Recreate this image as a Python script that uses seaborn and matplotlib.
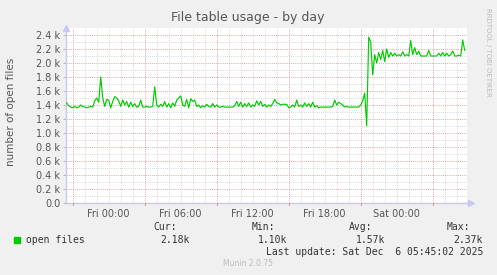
import matplotlib
matplotlib.use("Agg")
import matplotlib.pyplot as plt
import matplotlib.dates as mdates
import numpy as np
import pandas as pd
import seaborn as sns

# ---------------- data ----------------
start_time = "2025-12-04 20:30"   # Thu 20:30, 10-minute samples
step = "10min"
open_files_k = [
    1.43, 1.39, 1.37, 1.36, 1.38, 1.36, 1.37, 1.40, 1.38, 1.37,
    1.36, 1.37, 1.38, 1.37, 1.46, 1.50, 1.44, 1.80, 1.50, 1.38,
    1.48, 1.47, 1.36, 1.45, 1.52, 1.50, 1.46, 1.38, 1.47, 1.40,
    1.45, 1.37, 1.44, 1.38, 1.42, 1.37, 1.38, 1.47, 1.37, 1.37,
    1.38, 1.37, 1.37, 1.38, 1.66, 1.40, 1.37, 1.41, 1.38, 1.45,
    1.37, 1.42, 1.36, 1.43, 1.38, 1.47, 1.50, 1.53, 1.40, 1.38,
    1.48, 1.36, 1.49, 1.45, 1.47, 1.38, 1.40, 1.36, 1.39, 1.37,
    1.41, 1.38, 1.37, 1.42, 1.37, 1.40, 1.37, 1.37, 1.38, 1.37,
    1.37, 1.37, 1.37, 1.37, 1.39, 1.45, 1.38, 1.44, 1.37, 1.42,
    1.38, 1.43, 1.37, 1.40, 1.38, 1.46, 1.40, 1.45, 1.38, 1.41,
    1.37, 1.40, 1.38, 1.42, 1.48, 1.43, 1.42, 1.40, 1.41, 1.41,
    1.41, 1.36, 1.37, 1.40, 1.37, 1.47, 1.38, 1.40, 1.37, 1.43,
    1.38, 1.42, 1.37, 1.44, 1.37, 1.39, 1.36, 1.37, 1.37, 1.37,
    1.37, 1.37, 1.37, 1.38, 1.47, 1.40, 1.44, 1.42, 1.40, 1.37,
    1.38, 1.37, 1.37, 1.37, 1.37, 1.37, 1.37, 1.40, 1.46, 1.57,
    1.10, 2.37, 2.30, 1.83, 2.12, 2.00, 2.15, 2.05, 2.18, 2.02,
    2.20, 2.08, 2.15, 2.10, 2.14, 2.10, 2.12, 2.10, 2.16, 2.10,
    2.12, 2.10, 2.32, 2.12, 2.22, 2.12, 2.17, 2.10, 2.10, 2.10,
    2.10, 2.18, 2.10, 2.10, 2.10, 2.10, 2.14, 2.10, 2.15, 2.10,
    2.14, 2.10, 2.12, 2.17, 2.10, 2.10, 2.11, 2.10, 2.33, 2.18,
]
x_tick_labels = ["Fri 00:00", "Fri 06:00", "Fri 12:00", "Fri 18:00", "Sat 00:00"]
x_tick_times = ["2025-12-05 00:00", "2025-12-05 06:00", "2025-12-05 12:00",
                "2025-12-05 18:00", "2025-12-06 00:00"]
y_ticks_k = [0.0, 0.2, 0.4, 0.6, 0.8, 1.0, 1.2, 1.4, 1.6, 1.8, 2.0, 2.2, 2.4]
x_start = "2025-12-04 20:26:30"
x_end = "2025-12-06 05:51:30"
series_name = "open files"
stat_names = ["Cur:", "Min:", "Avg:", "Max:"]
stat_values = ["2.18k", "1.10k", "1.57k", "2.37k"]
last_update = "Last update: Sat Dec  6 05:45:02 2025"

df = pd.DataFrame({
    "time": pd.date_range(start_time, periods=len(open_files_k), freq=step),
    "value": open_files_k,
})

# ---------------- figure ----------------
W, H = 497, 275
fig = plt.figure(figsize=(W / 100, H / 100), dpi=100, facecolor="#F0F0F0")
ax = fig.add_axes([66 / W, 1 - 203 / H, (467 - 66) / W, (203 - 28) / H])
ax.set_facecolor("white")

xmin, xmax = pd.Timestamp(x_start), pd.Timestamp(x_end)
ax.set_xlim(xmin, xmax)
ax.set_ylim(0, 2.5)

# grid
minor_col = "#D8D8D8"
major_col = "#E8A0A0"
dot = (0, (1, 1.2))
for v in np.arange(0.1, 2.5, 0.2):
    ax.axhline(v, color=minor_col, lw=0.7, ls=dot, zorder=1)
for v in y_ticks_k[1:]:
    ax.axhline(v, color=major_col, lw=0.7, ls=dot, zorder=1.5)
hours = pd.date_range("2025-12-04 21:00", "2025-12-06 05:00", freq="1h")
for t in hours:
    if t.hour % 6 == 3:
        ax.axvline(t, color=major_col, lw=0.7, ls=dot, zorder=1.5)
    else:
        ax.axvline(t, color=minor_col, lw=0.7, ls=dot, zorder=1)

sns.lineplot(data=df, x="time", y="value", ax=ax, color="#00CC00",
             lw=0.85, legend=False, zorder=3)

# axes styling
for s in ["top", "right"]:
    ax.spines[s].set_visible(False)
for s in ["left", "bottom"]:
    ax.spines[s].set_color("#C8C8F0")
    ax.spines[s].set_linewidth(1.0)
ax.set_xlabel("")
ax.set_ylabel("number of open files", fontsize=7.5, color="#555555")
ax.yaxis.set_label_coords(-50 / 401, 0.52)
ax.set_yticks(y_ticks_k)
ax.set_yticklabels([("0.0" if v == 0 else f"{v:.1f} k") for v in y_ticks_k])
ax.set_xticks([pd.Timestamp(t) for t in x_tick_times])
ax.set_xticklabels(x_tick_labels)
ax.tick_params(axis="x", length=0, pad=4, labelsize=7, labelcolor="#555555")
ax.tick_params(axis="y", length=2, width=0.6, color="#AAAAAA", pad=2,
               labelsize=7, labelcolor="#555555")

# axis arrows
ax.plot([0], [1.0], marker="^", ms=4, color="#C8C8F0", transform=ax.transAxes,
        clip_on=False, zorder=5)
ax.plot([1.01], [0], marker=">", ms=4, color="#C8C8F0", transform=ax.transAxes,
        clip_on=False, zorder=5)
ax.plot([1.0, 1.01], [0, 0], color="#C8C8F0", lw=1.0, transform=ax.transAxes,
        clip_on=False, zorder=5)
# red ticks below axis at major positions
for t in hours:
    if t.hour % 6 == 3:
        ax.plot([mdates.date2num(t)] * 2, [-0.035, 0], color="#E08080", lw=0.6,
                clip_on=False, zorder=5)

# texts
fig.text(248 / W, 1 - 18 / H, "File table usage - by day", ha="center",
         va="center", fontsize=9, color="#555555")
fig.text(488 / W, 1 - 52 / H, "RRDTOOL / TOBI OETIKER", rotation=-90,
         ha="center", va="center", fontsize=5, color="#BBBBBB")

mono = "DejaVu Sans Mono"
fig.patches.append(plt.Rectangle((14 / W, 1 - 243 / H), 6 / W, 6 / H,
                                 transform=fig.transFigure, color="#00CC00"))
fig.text(26 / W, 1 - 240 / H, series_name, ha="left", va="center",
         fontsize=7, family=mono, color="#333333")
name_right = [177, 275, 372, 470]
val_right = [190, 287, 385, 483]
for nm, vv, xr1, xr2 in zip(stat_names, stat_values, name_right, val_right):
    fig.text(xr1 / W, 1 - 227 / H, nm, ha="right", va="center", fontsize=7,
             family=mono, color="#333333")
    fig.text(xr2 / W, 1 - 240 / H, vv, ha="right", va="center", fontsize=7,
             family=mono, color="#333333")
fig.text(483 / W, 1 - 252 / H, last_update, ha="right", va="center",
         fontsize=7, family=mono, color="#333333")
fig.text(248 / W, 1 - 264 / H, "Munin 2.0.75", ha="center", va="center",
         fontsize=5.5, color="#BBBBBB")

fig.savefig("out.png", dpi=100, facecolor=fig.get_facecolor())
